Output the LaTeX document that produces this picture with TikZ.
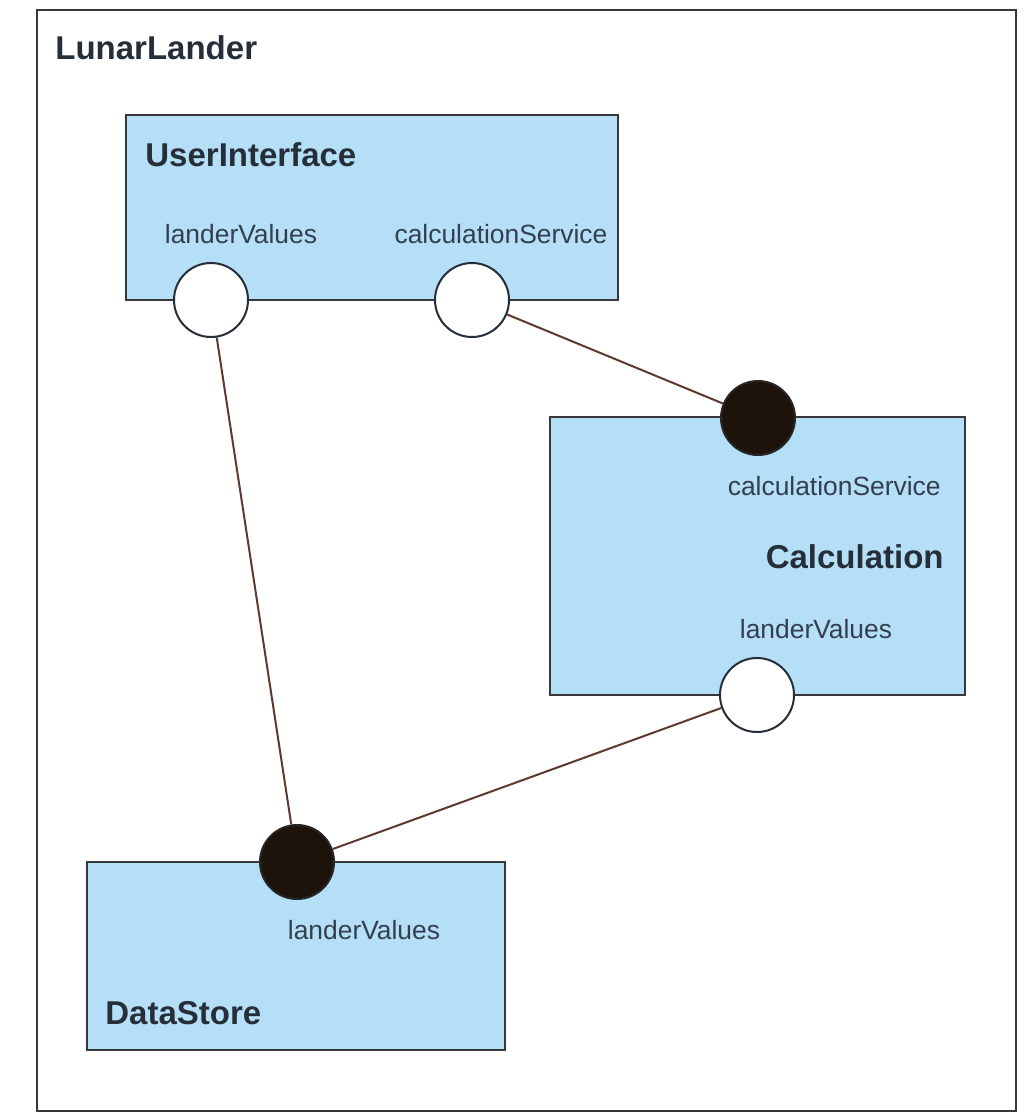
\documentclass[tikz,border=0pt]{standalone}
\usepackage{fontspec}
\setmainfont{Liberation Sans}
\begin{document}
\definecolor{partfill}{RGB}{180,223,246}
\definecolor{inkdark}{RGB}{38,46,58}
\definecolor{inksoft}{RGB}{52,62,78}
\definecolor{wire}{RGB}{92,58,48}
\definecolor{edge}{RGB}{55,55,60}
\begin{tikzpicture}[x=0.5pt,y=-0.5pt,
  frame/.style={draw=edge,line width=1.4pt,fill=white,inner sep=0pt},
  part/.style={draw=edge,line width=1.2pt,fill=partfill,inner sep=0pt},
  title/.style={font=\bfseries\fontsize{16.5}{18}\selectfont,text=inkdark,inner sep=0pt},
  portlabel/.style={font=\fontsize{13.2}{15}\selectfont,text=inksoft,inner sep=0pt},
  provided/.style={circle,draw=inkdark,line width=1pt,fill=white,minimum size=37pt,inner sep=0pt},
  required/.style={circle,draw=black!85,line width=1pt,fill=black!85!brown,minimum size=37pt,inner sep=0pt},
  link/.style={draw=wire,line width=1pt}]
\useasboundingbox (0,0) rectangle (1026,1118);

% enclosing component
\node[frame,minimum width=489.5pt,minimum height=550.5pt] (lunar) at (526.5,560.5) {};
\node[title,anchor=west] (lunartitle) at (55,48) {LunarLander};

% parts
\node[part,minimum width=246pt,minimum height=92.5pt] (ui) at (372,207.5) {};
\node[part,minimum width=207.5pt,minimum height=139pt] (calc) at (757.5,556) {};
\node[part,minimum width=209pt,minimum height=94pt] (ds) at (296,956) {};

% part names
\node[title,anchor=west] (uititle) at (145,155) {UserInterface};
\node[title,anchor=east] (calctitle) at (944,557) {Calculation};
\node[title,anchor=west] (dstitle) at (105,1013) {DataStore};

% port names
\node[portlabel] (uilvlabel) at (241,234) {landerValues};
\node[portlabel] (uicslabel) at (501,234) {calculationService};
\node[portlabel,anchor=east] (calccslabel) at (941,486) {calculationService};
\node[portlabel] (calclvlabel) at (816,629) {landerValues};
\node[portlabel] (dslvlabel) at (364,930) {landerValues};

% ports
\node[provided] (uilv) at (211,300) {};
\node[provided] (uics) at (472,300) {};
\node[required] (calccs) at (758,418) {};
\node[provided] (calclv) at (757,695) {};
\node[required] (dslv) at (297,862) {};

% connectors
\draw[link] (uilv) -- (dslv);
\draw[link] (uics) -- (calccs);
\draw[link] (calclv) -- (dslv);
\end{tikzpicture}
\end{document}
